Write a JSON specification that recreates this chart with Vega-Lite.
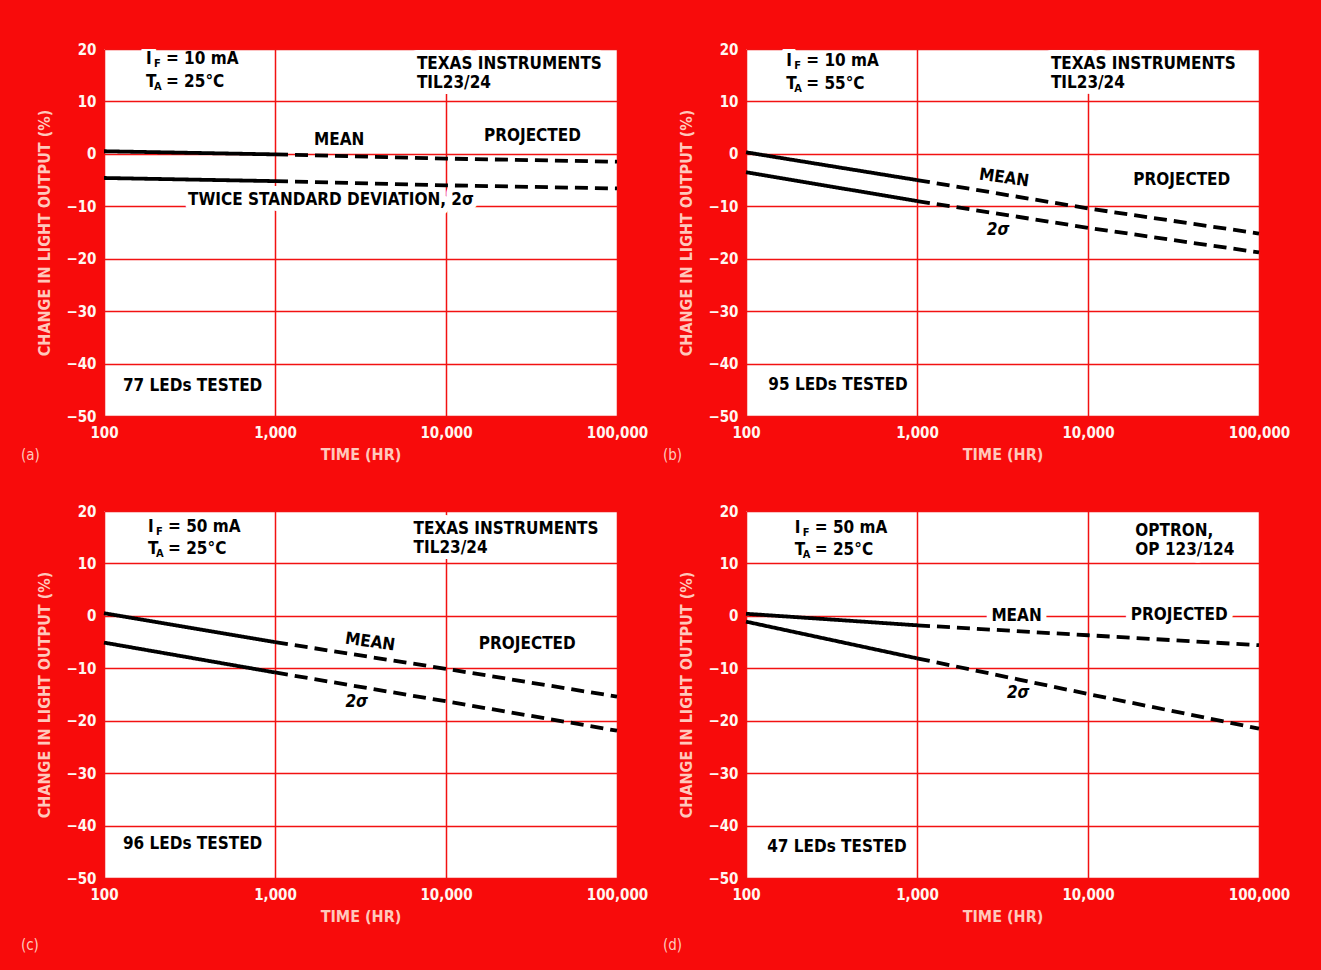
{
  "$schema": "https://vega.github.io/schema/vega-lite/v6.json",
  "padding": {"left": 20, "top": 42, "right": 31, "bottom": 17},
  "background": "#f80b0b",
  "columns": 2,
  "spacing": {"row": 41, "column": 14},
  "datasets": {
    "lines": [
      {"panel": "a", "series": "mean", "seg": "measured", "time": 100, "pct": 0.5},
      {"panel": "a", "series": "mean", "seg": "measured", "time": 1000, "pct": -0.1},
      {"panel": "a", "series": "mean", "seg": "projected", "time": 1000, "pct": -0.1},
      {"panel": "a", "series": "mean", "seg": "projected", "time": 10000, "pct": -0.9},
      {"panel": "a", "series": "mean", "seg": "projected", "time": 100000, "pct": -1.5},
      {"panel": "a", "series": "sigma", "seg": "measured", "time": 100, "pct": -4.6},
      {"panel": "a", "series": "sigma", "seg": "measured", "time": 1000, "pct": -5.2},
      {"panel": "a", "series": "sigma", "seg": "projected", "time": 1000, "pct": -5.2},
      {"panel": "a", "series": "sigma", "seg": "projected", "time": 10000, "pct": -6.0},
      {"panel": "a", "series": "sigma", "seg": "projected", "time": 100000, "pct": -6.6},
      {"panel": "b", "series": "mean", "seg": "measured", "time": 100, "pct": 0.3},
      {"panel": "b", "series": "mean", "seg": "measured", "time": 1000, "pct": -5.0},
      {"panel": "b", "series": "mean", "seg": "projected", "time": 1000, "pct": -5.0},
      {"panel": "b", "series": "mean", "seg": "projected", "time": 10000, "pct": -10.4},
      {"panel": "b", "series": "mean", "seg": "projected", "time": 100000, "pct": -15.2},
      {"panel": "b", "series": "sigma", "seg": "measured", "time": 100, "pct": -3.5},
      {"panel": "b", "series": "sigma", "seg": "measured", "time": 1000, "pct": -9.0},
      {"panel": "b", "series": "sigma", "seg": "projected", "time": 1000, "pct": -9.0},
      {"panel": "b", "series": "sigma", "seg": "projected", "time": 10000, "pct": -14.1},
      {"panel": "b", "series": "sigma", "seg": "projected", "time": 100000, "pct": -18.8},
      {"panel": "c", "series": "mean", "seg": "measured", "time": 100, "pct": 0.5},
      {"panel": "c", "series": "mean", "seg": "measured", "time": 1000, "pct": -5.0},
      {"panel": "c", "series": "mean", "seg": "projected", "time": 1000, "pct": -5.0},
      {"panel": "c", "series": "mean", "seg": "projected", "time": 10000, "pct": -10.1},
      {"panel": "c", "series": "mean", "seg": "projected", "time": 100000, "pct": -15.4},
      {"panel": "c", "series": "sigma", "seg": "measured", "time": 100, "pct": -5.1},
      {"panel": "c", "series": "sigma", "seg": "measured", "time": 1000, "pct": -10.8},
      {"panel": "c", "series": "sigma", "seg": "projected", "time": 1000, "pct": -10.8},
      {"panel": "c", "series": "sigma", "seg": "projected", "time": 10000, "pct": -16.3},
      {"panel": "c", "series": "sigma", "seg": "projected", "time": 100000, "pct": -21.9},
      {"panel": "d", "series": "mean", "seg": "measured", "time": 100, "pct": 0.4},
      {"panel": "d", "series": "mean", "seg": "measured", "time": 1000, "pct": -1.8},
      {"panel": "d", "series": "mean", "seg": "projected", "time": 1000, "pct": -1.8},
      {"panel": "d", "series": "mean", "seg": "projected", "time": 10000, "pct": -3.7},
      {"panel": "d", "series": "mean", "seg": "projected", "time": 100000, "pct": -5.6},
      {"panel": "d", "series": "sigma", "seg": "measured", "time": 100, "pct": -1.1},
      {"panel": "d", "series": "sigma", "seg": "measured", "time": 1000, "pct": -8.1},
      {"panel": "d", "series": "sigma", "seg": "projected", "time": 1000, "pct": -8.1},
      {"panel": "d", "series": "sigma", "seg": "projected", "time": 10000, "pct": -14.9},
      {"panel": "d", "series": "sigma", "seg": "projected", "time": 100000, "pct": -21.5}
    ],
    "labels": [
      {"panel": "a", "role": "plain", "time": 176, "pct": 18.1, "text": "I"},
      {"panel": "a", "role": "plain", "time": 176, "pct": 13.7, "text": "T"},
      {"panel": "a", "role": "sub", "time": 176, "pct": 18.1, "text": "F"},
      {"panel": "a", "role": "sub", "time": 176, "pct": 13.7, "text": "A"},
      {"panel": "a", "role": "rest", "time": 176, "pct": 18.1, "text": "= 10 mA"},
      {"panel": "a", "role": "rest", "time": 176, "pct": 13.7, "text": "= 25°C"},
      {"panel": "a", "role": "plain", "time": 6760, "pct": 17.1, "text": "TEXAS INSTRUMENTS"},
      {"panel": "a", "role": "plain", "time": 6760, "pct": 13.5, "text": "TIL23/24"},
      {"panel": "a", "role": "plain", "time": 1690, "pct": 2.7, "text": "MEAN"},
      {"panel": "a", "role": "plain", "time": 16680, "pct": 3.4, "text": "PROJECTED"},
      {"panel": "a", "role": "plain", "time": 310, "pct": -8.8, "text": "TWICE STANDARD DEVIATION, 2σ"},
      {"panel": "a", "role": "plain", "time": 129, "pct": -44.2, "text": "77 LEDs TESTED"},
      {"panel": "b", "role": "plain", "time": 172, "pct": 17.7, "text": "I"},
      {"panel": "b", "role": "plain", "time": 172, "pct": 13.3, "text": "T"},
      {"panel": "b", "role": "sub", "time": 172, "pct": 17.7, "text": "F"},
      {"panel": "b", "role": "sub", "time": 172, "pct": 13.3, "text": "A"},
      {"panel": "b", "role": "rest", "time": 172, "pct": 17.7, "text": "= 10 mA"},
      {"panel": "b", "role": "rest", "time": 172, "pct": 13.3, "text": "= 55°C"},
      {"panel": "b", "role": "plain", "time": 6067, "pct": 17.1, "text": "TEXAS INSTRUMENTS"},
      {"panel": "b", "role": "plain", "time": 6067, "pct": 13.5, "text": "TIL23/24"},
      {"panel": "b", "role": "tilt", "time": 3228, "pct": -4.6, "text": "MEAN"},
      {"panel": "b", "role": "plain", "time": 18400, "pct": -4.9, "text": "PROJECTED"},
      {"panel": "b", "role": "sigma", "time": 2979, "pct": -14.5, "text": "2σ"},
      {"panel": "b", "role": "plain", "time": 135, "pct": -44.0, "text": "95 LEDs TESTED"},
      {"panel": "c", "role": "plain", "time": 181, "pct": 16.9, "text": "I"},
      {"panel": "c", "role": "plain", "time": 181, "pct": 12.8, "text": "T"},
      {"panel": "c", "role": "sub", "time": 181, "pct": 16.9, "text": "F"},
      {"panel": "c", "role": "sub", "time": 181, "pct": 12.8, "text": "A"},
      {"panel": "c", "role": "rest", "time": 181, "pct": 16.9, "text": "= 50 mA"},
      {"panel": "c", "role": "rest", "time": 181, "pct": 12.8, "text": "= 25°C"},
      {"panel": "c", "role": "plain", "time": 6457, "pct": 16.6, "text": "TEXAS INSTRUMENTS"},
      {"panel": "c", "role": "plain", "time": 6457, "pct": 13.0, "text": "TIL23/24"},
      {"panel": "c", "role": "tilt", "time": 3597, "pct": -5.0, "text": "MEAN"},
      {"panel": "c", "role": "plain", "time": 15560, "pct": -5.3, "text": "PROJECTED"},
      {"panel": "c", "role": "sigma", "time": 3006, "pct": -16.5, "text": "2σ"},
      {"panel": "c", "role": "plain", "time": 129, "pct": -43.6, "text": "96 LEDs TESTED"},
      {"panel": "d", "role": "plain", "time": 193, "pct": 16.7, "text": "I"},
      {"panel": "d", "role": "plain", "time": 193, "pct": 12.6, "text": "T"},
      {"panel": "d", "role": "sub", "time": 193, "pct": 16.7, "text": "F"},
      {"panel": "d", "role": "sub", "time": 193, "pct": 12.6, "text": "A"},
      {"panel": "d", "role": "rest", "time": 193, "pct": 16.7, "text": "= 50 mA"},
      {"panel": "d", "role": "rest", "time": 193, "pct": 12.6, "text": "= 25°C"},
      {"panel": "d", "role": "plain", "time": 18920, "pct": 16.1, "text": "OPTRON,"},
      {"panel": "d", "role": "plain", "time": 18920, "pct": 12.6, "text": "OP 123/124"},
      {"panel": "d", "role": "plain", "time": 2723, "pct": 0.0, "text": "MEAN"},
      {"panel": "d", "role": "plain", "time": 17790, "pct": 0.2, "text": "PROJECTED"},
      {"panel": "d", "role": "sigma", "time": 3909, "pct": -14.8, "text": "2σ"},
      {"panel": "d", "role": "plain", "time": 133, "pct": -44.1, "text": "47 LEDs TESTED"}
    ]
  },
  "concat": [
    {
      "width": 513, "height": 367,
      "title": {"text": "(a)", "offset": -14},
      "encoding": {
        "x": {"field": "time", "type": "quantitative", "scale": {"type": "log", "domain": [100, 100000]}, "axis": {"values": [100, 1000, 10000, 100000], "format": ",", "title": "TIME (HR)"}},
        "y": {"field": "pct", "type": "quantitative", "scale": {"domain": [-50, 20]}, "axis": {"values": [-50, -40, -30, -20, -10, 0, 10, 20], "title": "CHANGE IN LIGHT OUTPUT (%)"}}
      },
      "layer": [
        {"data": {"name": "labels"}, "transform": [{"filter": "datum.panel == 'a' && datum.role == 'plain'"}], "mark": {"type": "text", "align": "left", "fill": "white", "stroke": "white", "strokeWidth": 12, "strokeJoin": "round", "clip": true}, "encoding": {"text": {"field": "text"}}},
        {"data": {"name": "lines"}, "transform": [{"filter": "datum.panel == 'a'"}], "mark": {"type": "line", "color": "black", "strokeWidth": 3.8}, "encoding": {"detail": {"field": "series"}, "strokeDash": {"field": "seg", "type": "nominal", "scale": {"domain": ["measured", "projected"], "range": [[1, 0], [13, 7]]}, "legend": null}}},
        {"data": {"name": "labels"}, "transform": [{"filter": "datum.panel == 'a' && datum.role == 'plain'"}], "mark": {"type": "text", "align": "left"}, "encoding": {"text": {"field": "text"}}},
        {"data": {"name": "labels"}, "transform": [{"filter": "datum.panel == 'a' && datum.role == 'sub'"}], "mark": {"type": "text", "align": "left", "fontSize": 11, "dx": 8, "dy": 5}, "encoding": {"text": {"field": "text"}}},
        {"data": {"name": "labels"}, "transform": [{"filter": "datum.panel == 'a' && datum.role == 'rest'"}], "mark": {"type": "text", "align": "left", "dx": 20}, "encoding": {"text": {"field": "text"}}},
        {"data": {"name": "labels"}, "transform": [{"filter": "datum.panel == 'a' && datum.role == 'tilt'"}], "mark": {"type": "text", "align": "center", "angle": 8}, "encoding": {"text": {"field": "text"}}},
        {"data": {"name": "labels"}, "transform": [{"filter": "datum.panel == 'a' && datum.role == 'sigma'"}], "mark": {"type": "text", "align": "center", "fontStyle": "italic"}, "encoding": {"text": {"field": "text"}}}
      ]
    },
    {
      "width": 513, "height": 367,
      "title": {"text": "(b)", "offset": -14},
      "encoding": {
        "x": {"field": "time", "type": "quantitative", "scale": {"type": "log", "domain": [100, 100000]}, "axis": {"values": [100, 1000, 10000, 100000], "format": ",", "title": "TIME (HR)"}},
        "y": {"field": "pct", "type": "quantitative", "scale": {"domain": [-50, 20]}, "axis": {"values": [-50, -40, -30, -20, -10, 0, 10, 20], "title": "CHANGE IN LIGHT OUTPUT (%)"}}
      },
      "layer": [
        {"data": {"name": "labels"}, "transform": [{"filter": "datum.panel == 'b' && datum.role == 'plain'"}], "mark": {"type": "text", "align": "left", "fill": "white", "stroke": "white", "strokeWidth": 12, "strokeJoin": "round", "clip": true}, "encoding": {"text": {"field": "text"}}},
        {"data": {"name": "lines"}, "transform": [{"filter": "datum.panel == 'b'"}], "mark": {"type": "line", "color": "black", "strokeWidth": 3.8}, "encoding": {"detail": {"field": "series"}, "strokeDash": {"field": "seg", "type": "nominal", "scale": {"domain": ["measured", "projected"], "range": [[1, 0], [13, 7]]}, "legend": null}}},
        {"data": {"name": "labels"}, "transform": [{"filter": "datum.panel == 'b' && datum.role == 'plain'"}], "mark": {"type": "text", "align": "left"}, "encoding": {"text": {"field": "text"}}},
        {"data": {"name": "labels"}, "transform": [{"filter": "datum.panel == 'b' && datum.role == 'sub'"}], "mark": {"type": "text", "align": "left", "fontSize": 11, "dx": 8, "dy": 5}, "encoding": {"text": {"field": "text"}}},
        {"data": {"name": "labels"}, "transform": [{"filter": "datum.panel == 'b' && datum.role == 'rest'"}], "mark": {"type": "text", "align": "left", "dx": 20}, "encoding": {"text": {"field": "text"}}},
        {"data": {"name": "labels"}, "transform": [{"filter": "datum.panel == 'b' && datum.role == 'tilt'"}], "mark": {"type": "text", "align": "center", "angle": 8}, "encoding": {"text": {"field": "text"}}},
        {"data": {"name": "labels"}, "transform": [{"filter": "datum.panel == 'b' && datum.role == 'sigma'"}], "mark": {"type": "text", "align": "center", "fontStyle": "italic"}, "encoding": {"text": {"field": "text"}}}
      ]
    },
    {
      "width": 513, "height": 367,
      "title": {"text": "(c)", "offset": 14},
      "encoding": {
        "x": {"field": "time", "type": "quantitative", "scale": {"type": "log", "domain": [100, 100000]}, "axis": {"values": [100, 1000, 10000, 100000], "format": ",", "title": "TIME (HR)"}},
        "y": {"field": "pct", "type": "quantitative", "scale": {"domain": [-50, 20]}, "axis": {"values": [-50, -40, -30, -20, -10, 0, 10, 20], "title": "CHANGE IN LIGHT OUTPUT (%)"}}
      },
      "layer": [
        {"data": {"name": "labels"}, "transform": [{"filter": "datum.panel == 'c' && datum.role == 'plain'"}], "mark": {"type": "text", "align": "left", "fill": "white", "stroke": "white", "strokeWidth": 12, "strokeJoin": "round", "clip": true}, "encoding": {"text": {"field": "text"}}},
        {"data": {"name": "lines"}, "transform": [{"filter": "datum.panel == 'c'"}], "mark": {"type": "line", "color": "black", "strokeWidth": 3.8}, "encoding": {"detail": {"field": "series"}, "strokeDash": {"field": "seg", "type": "nominal", "scale": {"domain": ["measured", "projected"], "range": [[1, 0], [13, 7]]}, "legend": null}}},
        {"data": {"name": "labels"}, "transform": [{"filter": "datum.panel == 'c' && datum.role == 'plain'"}], "mark": {"type": "text", "align": "left"}, "encoding": {"text": {"field": "text"}}},
        {"data": {"name": "labels"}, "transform": [{"filter": "datum.panel == 'c' && datum.role == 'sub'"}], "mark": {"type": "text", "align": "left", "fontSize": 11, "dx": 8, "dy": 5}, "encoding": {"text": {"field": "text"}}},
        {"data": {"name": "labels"}, "transform": [{"filter": "datum.panel == 'c' && datum.role == 'rest'"}], "mark": {"type": "text", "align": "left", "dx": 20}, "encoding": {"text": {"field": "text"}}},
        {"data": {"name": "labels"}, "transform": [{"filter": "datum.panel == 'c' && datum.role == 'tilt'"}], "mark": {"type": "text", "align": "center", "angle": 8}, "encoding": {"text": {"field": "text"}}},
        {"data": {"name": "labels"}, "transform": [{"filter": "datum.panel == 'c' && datum.role == 'sigma'"}], "mark": {"type": "text", "align": "center", "fontStyle": "italic"}, "encoding": {"text": {"field": "text"}}}
      ]
    },
    {
      "width": 513, "height": 367,
      "title": {"text": "(d)", "offset": 14},
      "encoding": {
        "x": {"field": "time", "type": "quantitative", "scale": {"type": "log", "domain": [100, 100000]}, "axis": {"values": [100, 1000, 10000, 100000], "format": ",", "title": "TIME (HR)"}},
        "y": {"field": "pct", "type": "quantitative", "scale": {"domain": [-50, 20]}, "axis": {"values": [-50, -40, -30, -20, -10, 0, 10, 20], "title": "CHANGE IN LIGHT OUTPUT (%)"}}
      },
      "layer": [
        {"data": {"name": "labels"}, "transform": [{"filter": "datum.panel == 'd' && datum.role == 'plain'"}], "mark": {"type": "text", "align": "left", "fill": "white", "stroke": "white", "strokeWidth": 12, "strokeJoin": "round", "clip": true}, "encoding": {"text": {"field": "text"}}},
        {"data": {"name": "lines"}, "transform": [{"filter": "datum.panel == 'd'"}], "mark": {"type": "line", "color": "black", "strokeWidth": 3.8}, "encoding": {"detail": {"field": "series"}, "strokeDash": {"field": "seg", "type": "nominal", "scale": {"domain": ["measured", "projected"], "range": [[1, 0], [13, 7]]}, "legend": null}}},
        {"data": {"name": "labels"}, "transform": [{"filter": "datum.panel == 'd' && datum.role == 'plain'"}], "mark": {"type": "text", "align": "left"}, "encoding": {"text": {"field": "text"}}},
        {"data": {"name": "labels"}, "transform": [{"filter": "datum.panel == 'd' && datum.role == 'sub'"}], "mark": {"type": "text", "align": "left", "fontSize": 11, "dx": 8, "dy": 5}, "encoding": {"text": {"field": "text"}}},
        {"data": {"name": "labels"}, "transform": [{"filter": "datum.panel == 'd' && datum.role == 'rest'"}], "mark": {"type": "text", "align": "left", "dx": 20}, "encoding": {"text": {"field": "text"}}},
        {"data": {"name": "labels"}, "transform": [{"filter": "datum.panel == 'd' && datum.role == 'tilt'"}], "mark": {"type": "text", "align": "center", "angle": 8}, "encoding": {"text": {"field": "text"}}},
        {"data": {"name": "labels"}, "transform": [{"filter": "datum.panel == 'd' && datum.role == 'sigma'"}], "mark": {"type": "text", "align": "center", "fontStyle": "italic"}, "encoding": {"text": {"field": "text"}}}
      ]
    }
  ],
  "config": {
    "font": "Liberation Sans Narrow, DejaVu Sans Condensed, sans-serif",
    "view": {"fill": "white", "stroke": null},
    "axis": {
      "grid": true, "gridColor": "#f21212", "gridWidth": 1.5, "gridOpacity": 1,
      "domain": false, "ticks": false,
      "labelColor": "#fff6f0", "labelFont": "Liberation Sans Narrow, DejaVu Sans Condensed, sans-serif", "labelFontSize": 15, "labelFontWeight": "bold",
      "labelFlush": false, "labelOverlap": false,
      "titleColor": "#ffc8bc", "titleFont": "Liberation Sans Narrow, DejaVu Sans Condensed, sans-serif", "titleFontSize": 16, "titleFontWeight": "bold"
    },
    "axisX": {"labelPadding": 9, "titlePadding": 6},
    "axisY": {"labelPadding": 8, "titlePadding": 13},
    "title": {"orient": "bottom", "anchor": "start", "frame": "bounds", "color": "#ffc8bc", "fontSize": 15, "fontWeight": "normal", "font": "Liberation Sans Narrow, DejaVu Sans Condensed, sans-serif", "dx": -16},
    "text": {"font": "Liberation Sans Narrow, DejaVu Sans Condensed, sans-serif", "fontWeight": "bold", "fontSize": 17, "color": "black", "baseline": "middle"}
  }
}
